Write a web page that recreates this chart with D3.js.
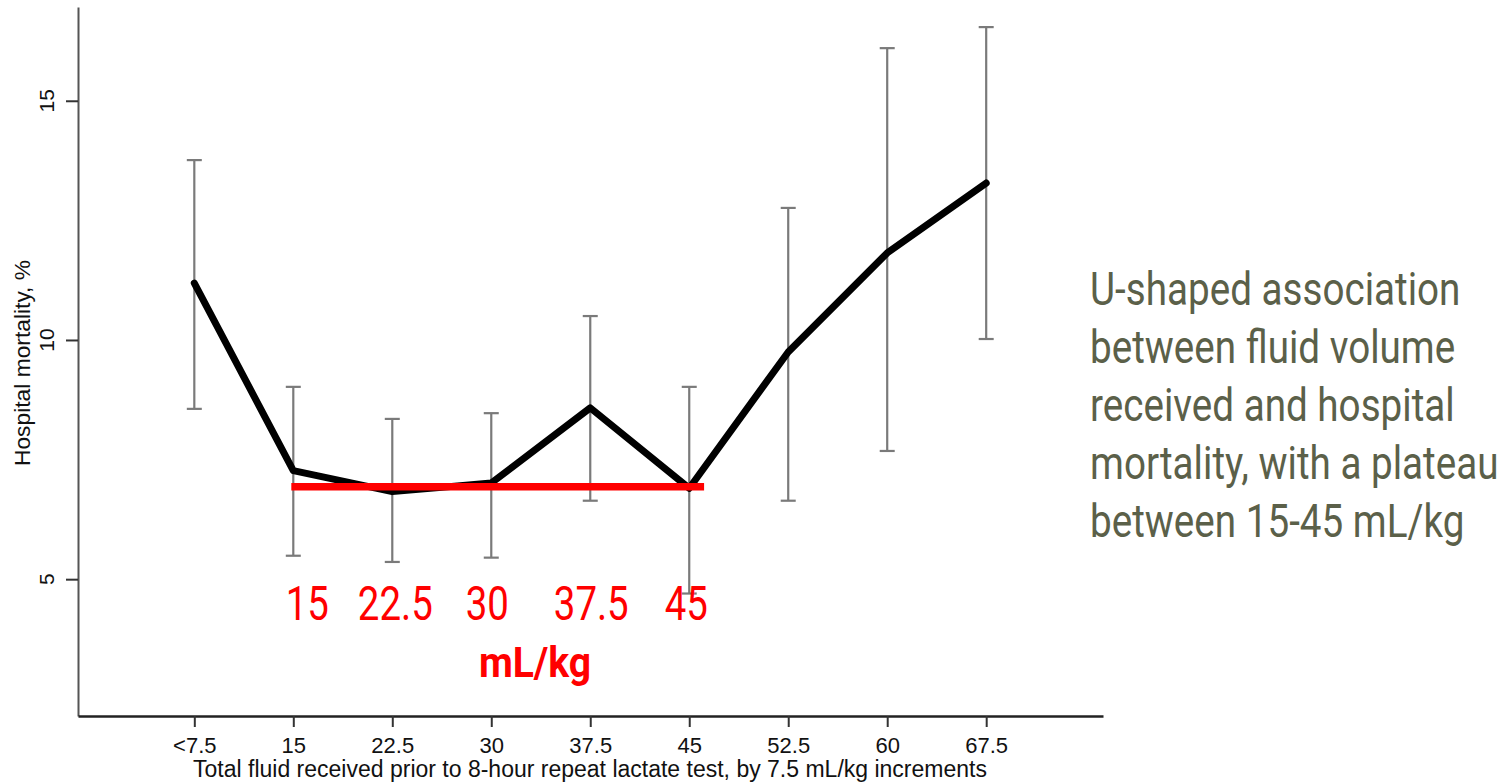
<!DOCTYPE html>
<html><head><meta charset="utf-8">
<script src="https://cdn.jsdelivr.net/npm/d3@7"></script>
<style>html,body{margin:0;padding:0;background:#fff;overflow:hidden}</style>
</head><body>
<svg id="chart" width="1512" height="783"></svg>
<script>
// ---- data ----
const categories = ["<7.5","15","22.5","30","37.5","45","52.5","60","67.5"];
const mortality  = [11.19, 7.27, 6.83, 7.01, 8.58, 6.90, 9.75, 11.82, 13.28];
const ciLow      = [8.56, 5.49, 5.36, 5.45, 6.64, 4.70, 6.64, 7.68, 10.02];
const ciHigh     = [13.76, 9.02, 8.35, 8.47, 10.50, 9.02, 12.76, 16.10, 16.54];
const yTicks     = [5, 10, 15];
const plateauLabels = ["15","22.5","30","37.5","45"];
const plateauIdx    = [1, 2, 3, 4, 5];
const plateauLevel  = 6.93;
const plateauSpan   = [0.98, 5.15];
const unitLabel = "mL/kg";
const xTitle = "Total fluid received prior to 8-hour repeat lactate test, by 7.5 mL/kg increments";
const yTitle = "Hospital mortality, %";
const noteLines = ["U-shaped association","between fluid volume","received and hospital","mortality, with a plateau","between 15-45 mL/kg"];

// ---- layout ----
const svg = d3.select("#chart");
const x = d3.scaleLinear().domain([-1.175, 9.18]).range([78, 1103]);
const y = d3.scaleLinear().domain([2.14, 16.96]).range([716, 7]);
const axisFont = "'Liberation Sans', Arial, Helvetica, sans-serif";
const slideFont = "Roboto, 'Liberation Sans', sans-serif";

// y axis
const gy = svg.append("g").attr("transform", `translate(${x.range()[0]},0)`)
  .call(d3.axisLeft(y).tickValues(yTicks).tickSize(12).tickSizeOuter(0).tickFormat(""));
gy.select(".domain").attr("stroke", "#555").attr("stroke-width", 2);
gy.selectAll(".tick line").attr("stroke", "#333").attr("stroke-width", 2);
svg.append("g").selectAll("text").data(yTicks).join("text")
  .attr("transform", d => `translate(46,${y(d)}) rotate(-90)`)
  .attr("text-anchor", "middle").attr("dominant-baseline", "central")
  .style("font-family", axisFont).style("font-size", "21px").attr("fill", "#111")
  .text(d => d);

// x axis
const gx = svg.append("g").attr("transform", `translate(0,${y.range()[0]})`)
  .call(d3.axisBottom(x).tickValues(d3.range(categories.length))
    .tickFormat(i => categories[i]).tickSize(11).tickSizeOuter(0));
gx.select(".domain").attr("stroke", "#222").attr("stroke-width", 2.5);
gx.selectAll(".tick line").attr("stroke", "#333").attr("stroke-width", 2);
gx.selectAll(".tick text").attr("y", 21).attr("dy", "0.71em")
  .style("font-family", axisFont).style("font-size", "22px").attr("fill", "#111");

// axis titles
svg.append("text").attr("x", 590).attr("y", 777)
  .attr("text-anchor", "middle").style("font-family", axisFont).style("font-size", "23px")
  .attr("fill", "#111").text(xTitle);
svg.append("text").attr("transform", "translate(22,363) rotate(-90)")
  .attr("text-anchor", "middle").attr("dominant-baseline", "central")
  .style("font-family", axisFont).style("font-size", "22.8px").attr("fill", "#111").text(yTitle);

// error bars
const eb = svg.append("g").attr("stroke", "#7a7a7a").attr("stroke-width", 2.2);
categories.forEach((c, i) => {
  eb.append("line").attr("x1", x(i)).attr("x2", x(i)).attr("y1", y(ciLow[i])).attr("y2", y(ciHigh[i]));
  [ciLow[i], ciHigh[i]].forEach(v => {
    eb.append("line").attr("x1", x(i) - 7.5).attr("x2", x(i) + 7.5).attr("y1", y(v)).attr("y2", y(v));
  });
});

// main line
svg.append("path").datum(mortality)
  .attr("d", d3.line().x((d, i) => x(i)).y(d => y(d)))
  .attr("fill", "none").attr("stroke", "#000").attr("stroke-width", 7)
  .attr("stroke-linejoin", "round").attr("stroke-linecap", "round");

// plateau annotation
svg.append("line").attr("x1", x(plateauSpan[0])).attr("x2", x(plateauSpan[1]))
  .attr("y1", y(plateauLevel)).attr("y2", y(plateauLevel))
  .attr("stroke", "#ff0000").attr("stroke-width", 7.5);
const nudge = [14, 3, -4, 1, -3];
svg.append("g").selectAll("text").data(plateauLabels).join("text")
  .attr("transform", (d, k) => `translate(${x(plateauIdx[k]) + nudge[k]},620) scale(0.8,1)`)
  .attr("text-anchor", "middle").style("font-family", slideFont).style("font-size", "48px")
  .attr("fill", "#ff0000").text(d => d);
svg.append("text").attr("transform", "translate(535,677) scale(0.93,1)").attr("text-anchor", "middle")
  .style("font-family", slideFont).style("font-size", "42px").style("font-weight", "bold")
  .attr("fill", "#ff0000").text(unitLabel);

// note on the right
svg.append("g").selectAll("text").data(noteLines).join("text")
  .attr("transform", (d, i) => `translate(1090,${305 + 58 * i}) scale(0.84,1)`)
  .style("font-family", slideFont).style("font-size", "46px").attr("fill", "#5b6049")
  .text(d => d);
</script></body></html>
